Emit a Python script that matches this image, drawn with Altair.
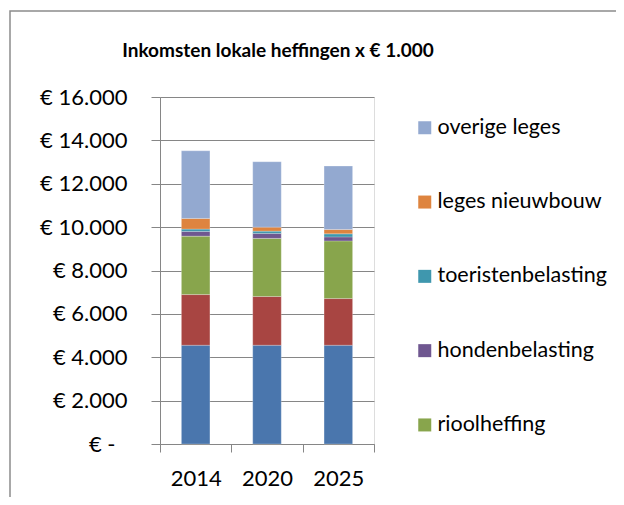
import altair as alt
import pandas as pd

years = ["2014", "2020", "2025"]
series = ["OZB", "afvalstoffenheffing", "rioolheffing", "hondenbelasting",
          "toeristenbelasting", "leges nieuwbouw", "overige leges"]
values = {
    "OZB":                 [4555, 4555, 4555],
    "afvalstoffenheffing": [2335, 2245, 2150],
    "rioolheffing":        [2695, 2680, 2660],
    "hondenbelasting":     [215, 230, 185],
    "toeristenbelasting":  [110, 105, 140],
    "leges nieuwbouw":     [490, 185, 200],
    "overige leges":       [3120, 3015, 2925],
}
colors = ["#4a76ad", "#a84542", "#88a54c", "#6f5790", "#3f97ae", "#de843f", "#93a9d0"]
legend_entries = ["overige leges", "leges nieuwbouw", "toeristenbelasting",
                  "hondenbelasting", "rioolheffing"]
title_text = "Inkomsten lokale heffingen x € 1.000"

rows = []
for si, s in enumerate(series):
    for yi, y in enumerate(years):
        rows.append({"jaar": y, "heffing": s, "bedrag": values[s][yi], "volgorde": si})
df = pd.DataFrame(rows)

FONT = "Lato"
GRAY = "#868686"
FS = 22

frame = alt.Chart(pd.DataFrame({"a": [0]})).mark_rect(
    fill=None, stroke="#8c8c8c", strokeWidth=1.5
).encode(
    x=alt.value(-150), x2=alt.value(600), y=alt.value(-86), y2=alt.value(500)
)

title = alt.Chart(pd.DataFrame({"t": [title_text]})).mark_text(
    font=FONT, fontSize=19, fontWeight="bold", color="#000000",
    align="center", baseline="alphabetic"
).encode(x=alt.value(118), y=alt.value(-40), text="t:N")

bars = alt.Chart(df).mark_bar(width={"band": 0.4}, stroke="#ffffff", strokeWidth=0.4, strokeOpacity=0.6).encode(
    x=alt.X("jaar:N", sort=years, title=None,
            scale=alt.Scale(paddingInner=0, paddingOuter=0),
            axis=alt.Axis(labelAngle=0, tickBand="extent", domainColor=GRAY, tickColor=GRAY,
                          tickSize=8, labelPadding=16, labelFontSize=FS, labelFont=FONT,
                          labelColor="#000000", grid=False)),
    y=alt.Y("bedrag:Q", stack="zero", title=None,
            scale=alt.Scale(domain=[0, 16000], nice=False),
            axis=alt.Axis(values=list(range(0, 16001, 2000)), tickSize=9,
                          labelPadding={"condition": {"test": "datum.value == 0", "value": 36}, "value": 24},
                          domainColor=GRAY, tickColor=GRAY, gridColor=GRAY, gridWidth=1,
                          labelFontSize=FS, labelFont=FONT, labelColor="#000000",
                          labelExpr="datum.value == 0 ? '€ -' : '€ ' + replace(format(datum.value, ',.0f'), ',', '.')")),
    color=alt.Color("heffing:N", scale=alt.Scale(domain=series, range=colors),
                    legend=alt.Legend(values=legend_entries, title=None, orient="none",
                                      legendX=254, legendY=20, symbolType="square",
                                      symbolSize=169, symbolStrokeWidth=0, labelFontSize=21.5,
                                      labelFont=FONT, labelColor="#000000", rowPadding=51.3,
                                      labelOffset=2, padding=0, labelLimit=400)),
    order=alt.Order("volgorde:Q", sort="ascending"),
)

chart = alt.layer(frame, bars, title).properties(
    width=214, height=347,
    autosize=alt.AutoSizeParams(type="none"),
    padding={"left": 152, "top": 89, "right": 242, "bottom": 53},
).configure_view(stroke=None).configure(background="#ffffff")

chart.save("out.html", embed_options={"renderer": "svg", "actions": False})
